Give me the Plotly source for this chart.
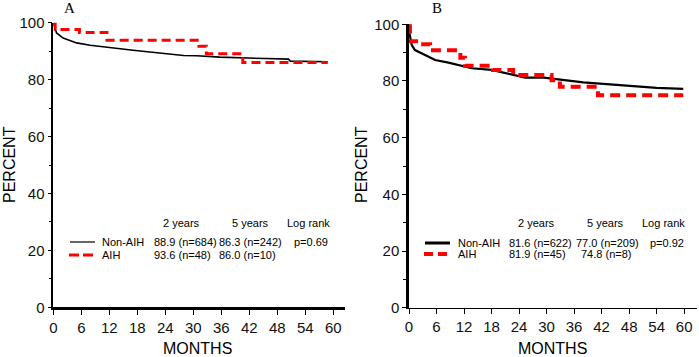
import plotly.graph_objects as go

# ---------------- data ----------------
# Panel A
a_nonaih_months = [0, 0.7, 2.1, 5.0, 7.9, 10.7, 13.6, 17.1, 20.7, 24.3, 27.9, 30.7, 35.7, 45.5, 50.4, 50.8, 58.8]
a_nonaih_pct = [100, 96.4, 94.6, 92.9, 92.1, 91.5, 90.9, 90.3, 89.7, 89.1, 88.5, 88.4, 87.9, 87.4, 87.2, 86.5, 86.3]
a_aih_months = [0, 0.4, 5.6, 11.5, 31.2, 32.8, 40.6, 58.8]
a_aih_pct = [100, 97.6, 96.6, 93.8, 91.7, 89.1, 86.0, 86.0]

# Panel B
b_nonaih_months = [0, 0.1, 0.6, 1.3, 3.5, 5.7, 8.6, 12.2, 13.7, 18.0, 20.9, 23.8, 25.3, 29.4, 31.6, 32.9, 38.0, 43.1, 48.9, 54.0, 59.8]
b_nonaih_pct = [100, 96.8, 92.7, 90.9, 89.2, 87.4, 86.5, 85.0, 84.5, 83.9, 82.9, 81.8, 81.2, 81.2, 80.8, 80.3, 79.5, 78.9, 78.2, 77.6, 77.2]
b_aih_months = [0, 0.2, 2.6, 4.6, 11.2, 12.2, 18.3, 22.7, 31.1, 32.9, 41.2, 59.8]
b_aih_pct = [100, 94.0, 93.0, 90.8, 88.2, 85.4, 83.9, 82.1, 80.3, 78.0, 75.0, 75.0]

x_ticks = [0, 6, 12, 18, 24, 30, 36, 42, 48, 54, 60]
y_ticks = [0, 20, 40, 60, 80, 100]

table_headers = ["2 years", "5 years", "Log rank"]
series_names = ["Non-AIH", "AIH"]
a_table = [["88.9 (n=684)", "86.3 (n=242)", "p=0.69"], ["93.6 (n=48)", "86.0 (n=10)", ""]]
b_table = [["81.6 (n=622)", "77.0 (n=209)", "p=0.92"], ["81.9 (n=45)", "74.8 (n=8)", ""]]
panel_labels = ["A", "B"]

# ---------------- figure ----------------
W, H = 699, 357
def px(x):
    return x / W
def py(y):
    return 1 - y / H

fig = go.Figure()

fig.add_trace(go.Scatter(x=a_nonaih_months, y=a_nonaih_pct, mode="lines",
                         line=dict(color="black", width=1.6), xaxis="x", yaxis="y", showlegend=False))
fig.add_trace(go.Scatter(x=a_aih_months, y=a_aih_pct, mode="lines", line_shape="hv",
                         line=dict(color="#ff0000", width=3, dash="9px,5px"), xaxis="x", yaxis="y", showlegend=False))
fig.add_trace(go.Scatter(x=b_nonaih_months, y=b_nonaih_pct, mode="lines",
                         line=dict(color="black", width=2.2), xaxis="x2", yaxis="y2", showlegend=False))
fig.add_trace(go.Scatter(x=b_aih_months, y=b_aih_pct, mode="lines", line_shape="hv",
                         line=dict(color="#ff0000", width=4, dash="10px,6px"), xaxis="x2", yaxis="y2", showlegend=False))

tickfont = dict(family="Liberation Sans, Arial, sans-serif", size=15, color="#111")
common_x = dict(range=[0, 62.5], tickvals=x_ticks, ticks="outside", ticklen=5, tickwidth=1, tickcolor="black",
                showline=True, linecolor="black", showgrid=False, zeroline=False, tickfont=tickfont,
                automargin=False)
common_y = dict(range=[0, 100], tickvals=y_ticks, ticks="outside", ticklen=4, tickwidth=1, tickcolor="black",
                showline=True, linecolor="black", showgrid=False, zeroline=False, tickfont=tickfont,
                automargin=False,
                minor=dict(dtick=10, tick0=0, ticks="outside", ticklen=3, tickcolor="black", showgrid=False))

fig.update_layout(
    template="none",
    width=W, height=H, autosize=False,
    margin=dict(l=0, r=0, t=0, b=0, pad=0),
    paper_bgcolor="white", plot_bgcolor="white",
    xaxis=dict(common_x, domain=[px(53.3), px(345)], anchor="y", linewidth=2.5),
    yaxis=dict(common_y, domain=[py(307.3), py(22.7)], anchor="x", linewidth=1.6),
    xaxis2=dict(common_x, domain=[px(409), px(697)], anchor="y2", range=[0, 62.8], linewidth=1.2),
    yaxis2=dict(common_y, domain=[py(307.7), py(24.3)], anchor="x2", linewidth=2.5),
)

ann_font = dict(family="Liberation Sans, Arial, sans-serif", size=11, color="black")
title_font = dict(family="Liberation Sans, Arial, sans-serif", size=16, color="black")
anns = []
def add_text(text, x, y, anchor="left", font=ann_font, angle=0):
    anns.append(dict(text=text, x=px(x), y=py(y), xref="paper", yref="paper",
                     xanchor=anchor, yanchor="middle", showarrow=False, font=font, textangle=angle))

# axis titles
add_text("PERCENT", 9, 165, "center", title_font, -90)
add_text("PERCENT", 361, 165, "center", title_font, -90)
add_text("MONTHS", 197, 348, "center", title_font)
add_text("MONTHS", 552, 348, "center", title_font)

# panel labels
serif = dict(family="Liberation Serif, Times New Roman, serif", size=15, color="black")
add_text(panel_labels[0], 69, 8, "center", serif)
add_text(panel_labels[1], 437, 8, "center", serif)

# tables
for hdr, xc in zip(table_headers, [181, 250, 308]):
    add_text(hdr, xc, 223, "center")
for hdr, xc in zip(table_headers, [536, 605, 663]):
    add_text(hdr, xc, 223, "center")

a_rows_y = [242, 255]
b_rows_y = [243, 254]
for i, name in enumerate(series_names):
    add_text(name, 100, a_rows_y[i])
    add_text(name, 456, b_rows_y[i])
    for txt, xl in zip(a_table[i], [152, 217, 292]):
        if txt:
            add_text(txt, xl, a_rows_y[i])
    for j, (txt, xl) in enumerate(zip(b_table[i], [507, 574, 648])):
        if txt:
            add_text(txt, xl + (5 if (i == 1 and j == 1) else 0), b_rows_y[i])

fig.update_layout(annotations=anns)

# legend key samples
shapes = [
    dict(type="line", xref="paper", yref="paper", x0=px(70), x1=px(95), y0=py(242), y1=py(242),
         line=dict(color="black", width=1.2)),
    dict(type="line", xref="paper", yref="paper", x0=px(69), x1=px(94), y0=py(255), y1=py(255),
         line=dict(color="#ff0000", width=3, dash="10px,4px")),
    dict(type="line", xref="paper", yref="paper", x0=px(425), x1=px(450), y0=py(243), y1=py(243),
         line=dict(color="black", width=3)),
    dict(type="line", xref="paper", yref="paper", x0=px(424), x1=px(448), y0=py(254), y1=py(254),
         line=dict(color="#ff0000", width=4, dash="9px,5px")),
]
fig.update_layout(shapes=shapes)

fig.write_html("out.html", config={"displayModeBar": False},
               post_script="document.body.style.margin='0';document.body.style.overflow='hidden';")
